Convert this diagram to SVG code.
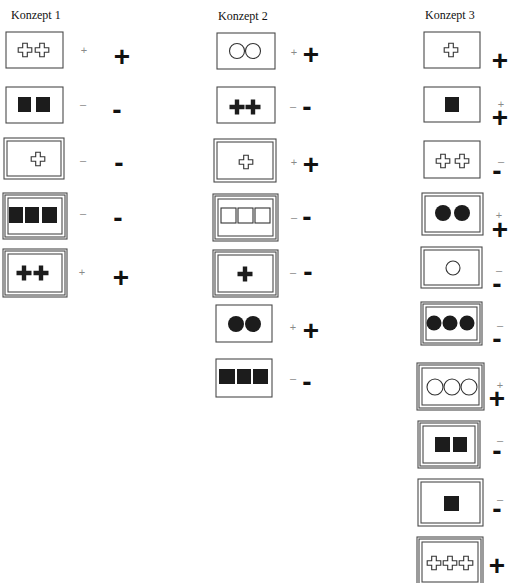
<svg xmlns="http://www.w3.org/2000/svg" xmlns:xlink="http://www.w3.org/1999/xlink" width="508" height="583" viewBox="0 0 508 583">
<style>
.b{fill:none;stroke:#4a4a4a;stroke-width:1.1}
.f{fill:#1c1c1c}
.o{fill:#fff;stroke:#333;stroke-width:1.1}
.t{font-family:"Liberation Serif",serif;font-size:12px;fill:#111}
.s{font-family:"Liberation Sans",sans-serif;font-size:11px;fill:#8a8a8a;text-anchor:middle}
.L{font-family:"Liberation Sans",sans-serif;font-weight:bold;font-size:28px;fill:#111;text-anchor:middle}
</style>
<defs>
<path id="oc" class="o" d="M-2.3,-6.8H2.3V-2.3H6.8V2.3H2.3V6.8H-2.3V2.3H-6.8V-2.3H-2.3Z"/>
<path id="bp" class="f" d="M-2.2,-7.5H2.2V-2.2H7.5V2.2H2.2V7.5H-2.2V2.2H-7.5V-2.2H-2.2Z"/>
</defs>
<rect width="508" height="583" fill="#fff"/>
<g id="titles">
<text class="t" x="11" y="19">Konzept 1</text>
<text class="t" x="218" y="20">Konzept 2</text>
<text class="t" x="425" y="19">Konzept 3</text>
</g>
<g id="connectors"/>
<!-- Konzept 1 -->
<g id="k1n1">
<rect class="b" x="6" y="32" width="57" height="36"/>
<use xlink:href="#oc" x="25" y="50"/><use xlink:href="#oc" x="42" y="50"/>
<text class="s" x="84" y="54">+</text><text class="L" x="122" y="66">+</text>
</g>
<g id="k1n2">
<rect class="b" x="6" y="87" width="57" height="36"/>
<rect class="f" x="18" y="97" width="13" height="15"/><rect class="f" x="36" y="97" width="14" height="15"/>
<text class="s" x="83" y="108">–</text><text class="L" x="117" y="119">-</text>
</g>
<g id="k1n3">
<rect class="b" x="4" y="138" width="60" height="41"/><rect class="b" x="7" y="141" width="54" height="35"/>
<use xlink:href="#oc" x="38" y="159"/>
<text class="s" x="83" y="164">–</text><text class="L" x="119" y="172">-</text>
</g>
<g id="k1n4">
<rect class="b" x="3" y="193" width="64" height="46"/><rect class="b" x="5" y="195" width="60" height="42"/><rect class="b" x="8" y="198" width="54" height="36"/>
<rect class="f" x="9" y="207" width="14" height="16"/><rect class="f" x="25" y="207" width="14" height="16"/><rect class="f" x="42" y="207" width="15" height="16"/>
<text class="s" x="83" y="217">–</text><text class="L" x="118" y="227">-</text>
</g>
<g id="k1n5">
<rect class="b" x="3" y="249" width="64" height="48"/><rect class="b" x="5" y="251" width="60" height="44"/><rect class="b" x="8" y="254" width="54" height="38"/>
<use xlink:href="#bp" x="24" y="273"/><use xlink:href="#bp" x="41" y="273"/>
<text class="s" x="82" y="276">+</text><text class="L" x="121" y="287">+</text>
</g>
<!-- Konzept 2 -->
<g id="k2n1">
<rect class="b" x="217" y="33" width="58" height="36"/>
<circle class="o" cx="237" cy="51" r="7.5"/><circle class="o" cx="253" cy="51" r="7.5"/>
<text class="s" x="294" y="56">+</text><text class="L" x="311" y="64">+</text>
</g>
<g id="k2n2">
<rect class="b" x="217" y="87" width="58" height="36"/>
<use xlink:href="#bp" x="237" y="107"/><use xlink:href="#bp" x="253" y="107"/>
<text class="s" x="293" y="110">–</text><text class="L" x="307" y="116">-</text>
</g>
<g id="k2n3">
<rect class="b" x="214" y="139" width="62" height="43"/><rect class="b" x="217" y="142" width="56" height="37"/>
<use xlink:href="#oc" x="246" y="162"/>
<text class="s" x="294" y="166">+</text><text class="L" x="311" y="174">+</text>
</g>
<g id="k2n4">
<rect class="b" x="213" y="194" width="65" height="47"/><rect class="b" x="215" y="196" width="61" height="43"/><rect class="b" x="218" y="199" width="55" height="37"/>
<rect class="o" x="221" y="208" width="15" height="15"/><rect class="o" x="238" y="208" width="15" height="15"/><rect class="o" x="255" y="208" width="15" height="15"/>
<text class="s" x="294" y="221">–</text><text class="L" x="307" y="226">-</text>
</g>
<g id="k2n5">
<rect class="b" x="213" y="250" width="65" height="47"/><rect class="b" x="215" y="252" width="61" height="43"/><rect class="b" x="218" y="255" width="55" height="37"/>
<use xlink:href="#bp" x="245" y="274"/>
<text class="s" x="293" y="276">–</text><text class="L" x="308" y="281">-</text>
</g>
<g id="k2n6">
<rect class="b" x="216" y="305" width="56" height="37"/>
<circle class="f" cx="236" cy="324" r="8"/><circle class="f" cx="253" cy="324" r="8"/>
<text class="s" x="293" y="331">+</text><text class="L" x="311" y="340">+</text>
</g>
<g id="k2n7">
<rect class="b" x="216" y="359" width="56" height="38"/>
<rect class="f" x="219" y="369" width="16" height="15"/><rect class="f" x="237" y="369" width="14" height="15"/><rect class="f" x="253" y="369" width="15" height="15"/>
<text class="s" x="293" y="382">–</text><text class="L" x="307" y="391">-</text>
</g>
<!-- Konzept 3 -->
<g id="k3n1">
<rect class="b" x="424" y="32" width="56" height="36"/>
<use xlink:href="#oc" x="451" y="50"/>
<text class="L" x="500" y="70">+</text>
</g>
<g id="k3n2">
<rect class="b" x="424" y="87" width="56" height="35"/>
<rect class="f" x="445" y="97" width="14" height="15"/>
<text class="s" x="501" y="108">+</text><text class="L" x="500" y="127">+</text>
</g>
<g id="k3n3">
<rect class="b" x="424" y="141" width="56" height="37"/>
<use xlink:href="#oc" x="443" y="161"/><use xlink:href="#oc" x="462" y="161"/>
<text class="s" x="501" y="165">–</text><text class="L" x="497" y="180">-</text>
</g>
<g id="k3n4">
<rect class="b" x="422" y="193" width="61" height="42"/><rect class="b" x="425" y="196" width="55" height="36"/>
<circle class="f" cx="443" cy="213" r="8"/><circle class="f" cx="462" cy="213" r="8"/>
<text class="s" x="499" y="219">+</text><text class="L" x="500" y="239">+</text>
</g>
<g id="k3n5">
<rect class="b" x="421" y="247" width="61" height="41"/><rect class="b" x="424" y="250" width="55" height="35"/>
<circle class="o" cx="453" cy="268" r="7"/>
<text class="s" x="499" y="274">–</text><text class="L" x="497" y="293">-</text>
</g>
<g id="k3n6">
<rect class="b" x="421" y="302" width="61" height="43"/><rect class="b" x="423" y="304" width="57" height="39"/><rect class="b" x="426" y="307" width="51" height="33"/>
<circle class="f" cx="434" cy="323" r="7.5"/><circle class="f" cx="450" cy="323" r="7.5"/><circle class="f" cx="467" cy="323" r="7.5"/>
<text class="s" x="500" y="329">–</text><text class="L" x="497" y="348">-</text>
</g>
<g id="k3n7">
<rect class="b" x="417" y="363" width="67" height="47"/><rect class="b" x="419" y="365" width="63" height="43"/><rect class="b" x="422" y="368" width="57" height="37"/>
<circle class="o" cx="435" cy="387" r="8"/><circle class="o" cx="452" cy="387" r="8"/><circle class="o" cx="469" cy="387" r="8"/>
<text class="s" x="500" y="389">+</text><text class="L" x="497" y="408">+</text>
</g>
<g id="k3n8">
<rect class="b" x="418" y="421" width="62" height="47"/><rect class="b" x="420" y="423" width="58" height="43"/><rect class="b" x="423" y="426" width="52" height="37"/>
<rect class="f" x="435" y="437" width="15" height="15"/><rect class="f" x="453" y="437" width="14" height="15"/>
<text class="s" x="500" y="444">–</text><text class="L" x="497" y="460">-</text>
</g>
<g id="k3n9">
<rect class="b" x="418" y="479" width="65" height="47"/><rect class="b" x="421" y="482" width="59" height="41"/>
<rect class="f" x="444" y="496" width="15" height="15"/>
<text class="s" x="500" y="503">–</text><text class="L" x="497" y="518">-</text>
</g>
<g id="k3n10">
<rect class="b" x="417" y="537" width="66" height="50"/><rect class="b" x="419" y="539" width="62" height="46"/><rect class="b" x="422" y="542" width="56" height="40"/>
<use xlink:href="#oc" x="434" y="563"/><use xlink:href="#oc" x="450" y="563"/><use xlink:href="#oc" x="466" y="563"/>
<text class="L" x="497" y="575">+</text>
</g>
</svg>
